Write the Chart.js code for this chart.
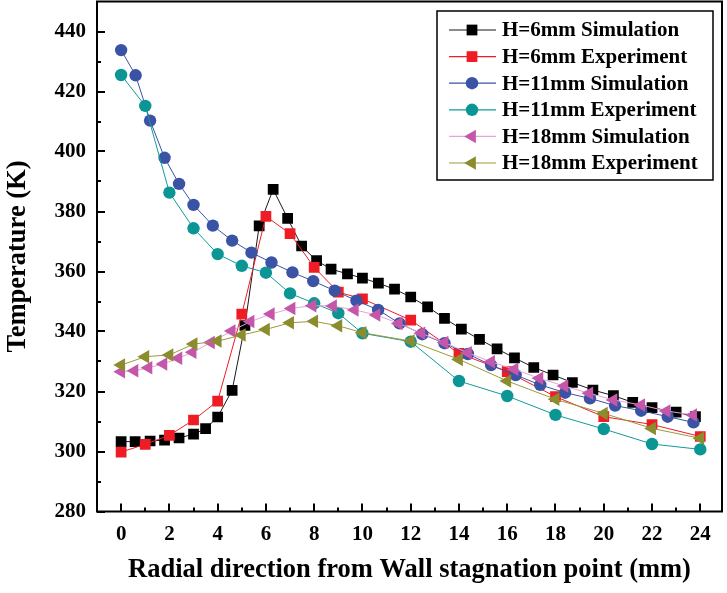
<!DOCTYPE html>
<html>
<head>
<meta charset="utf-8">
<script src="https://cdn.jsdelivr.net/npm/chart.js@4/dist/chart.umd.min.js"></script>
<style>
  html, body { margin: 0; padding: 0; background: #fff; }
  #wrap { width: 727px; height: 593px; }
</style>
</head>
<body>
<div id="wrap"><canvas id="c" width="727" height="593"></canvas></div>
<script>
// ---------------- DATA ----------------
const seriesNames = [
  'H=6mm Simulation', 'H=6mm Experiment',
  'H=11mm Simulation', 'H=11mm Experiment',
  'H=18mm Simulation', 'H=18mm Experiment'
];
const xTicks = [0, 2, 4, 6, 8, 10, 12, 14, 16, 18, 20, 22, 24];
const yTicks = [280, 300, 320, 340, 360, 380, 400, 420, 440];

// experiments share radial positions (mm)
const expX = [0, 1, 2, 3, 4, 5, 6, 7, 8, 9, 10, 12, 14, 16, 18, 20, 22, 24];

const sim6X = [0, 0.58, 1.2, 1.8, 2.4, 3.0, 3.5, 4.0, 4.6, 5.13, 5.72, 6.3, 6.9, 7.48, 8.1, 8.7, 9.38, 10.0, 10.66, 11.33, 12.0, 12.7, 13.4, 14.1, 14.85, 15.58, 16.3, 17.1, 17.9, 18.7, 19.55, 20.4, 21.2, 22.0, 23.0, 23.8];
const sim6T = [303.3, 303.3, 303.5, 303.8, 304.5, 305.8, 307.6, 311.5, 320.4, 342.0, 375.2, 387.4, 377.7, 368.5, 363.6, 360.8, 359.2, 357.8, 356.1, 354.1, 351.5, 348.2, 344.4, 340.8, 337.4, 334.2, 331.2, 328.0, 325.5, 323.0, 320.5, 318.6, 316.4, 314.6, 313.1, 311.6];

const exp6T = [299.8, 302.4, 305.4, 310.5, 316.8, 345.8, 378.4, 372.6, 361.4, 353.1, 350.9, 343.8, 332.7, 326.6, 318.3, 311.6, 309.0, 305.0];

const sim11X = [0, 0.6, 1.2, 1.8, 2.4, 3.0, 3.8, 4.6, 5.4, 6.23, 7.1, 7.96, 8.85, 9.75, 10.65, 11.54, 12.48, 13.4, 14.37, 15.33, 16.35, 17.37, 18.4, 19.43, 20.47, 21.55, 22.65, 23.72];
const sim11T = [433.8, 425.4, 410.3, 397.9, 389.2, 382.2, 375.3, 370.3, 366.3, 363.0, 359.7, 356.8, 353.6, 350.3, 347.2, 342.7, 339.1, 336.1, 332.5, 328.8, 325.5, 322.2, 319.6, 317.7, 315.3, 313.6, 311.6, 309.7];

const exp11T = [425.5, 415.2, 386.3, 374.4, 365.8, 361.9, 359.6, 352.7, 349.4, 346.1, 339.4, 336.6, 323.5, 318.5, 312.2, 307.5, 302.5, 300.7];

const sim18X = [0, 0.55, 1.13, 1.75, 2.37, 2.96, 3.72, 4.58, 5.36, 6.2, 7.06, 7.93, 8.78, 9.68, 10.58, 11.5, 12.44, 13.4, 14.37, 15.33, 16.3, 17.33, 18.37, 19.4, 20.4, 21.55, 22.6, 23.7];
const sim18T = [326.6, 326.9, 327.9, 329.2, 331.1, 333.1, 336.3, 340.2, 343.3, 345.8, 347.7, 348.6, 348.5, 347.2, 345.5, 342.7, 339.4, 336.3, 332.9, 329.9, 327.4, 324.4, 321.8, 319.4, 317.2, 315.5, 313.5, 312.2];

const exp18T = [328.8, 331.6, 332.2, 335.8, 336.8, 338.8, 340.7, 342.9, 343.4, 341.9, 339.6, 336.8, 330.7, 323.5, 317.4, 312.7, 307.7, 304.4];

// ---------------- BUILD ----------------
function pts(xs, ys) { return xs.map((x, i) => ({ x: x, y: ys[i] })); }

const styles = [
  { line: '#1a1a1a', fill: '#000000', shape: 'rect',     r: 7.6, rot: 0 },
  { line: '#ee1c25', fill: '#ee1c25', shape: 'rect',     r: 7.6, rot: 0 },
  { line: '#3a53a4', fill: '#3a53a4', shape: 'circle',   r: 6.2, rot: 0 },
  { line: '#0f9b9b', fill: '#0b9595', shape: 'circle',   r: 6.2, rot: 0 },
  { line: '#e7a3d8', fill: '#c457a9', shape: 'triangle', r: 7.8, rot: 270 },
  { line: '#9a9a3a', fill: '#8b8c2e', shape: 'triangle', r: 7.8, rot: 270 }
];
const seriesData = [
  pts(sim6X, sim6T), pts(expX, exp6T),
  pts(sim11X, sim11T), pts(expX, exp11T),
  pts(sim18X, sim18T), pts(expX, exp18T)
];

const datasets = seriesData.map((d, i) => ({
  label: seriesNames[i],
  data: d,
  showLine: true,
  borderColor: styles[i].line,
  borderWidth: 1,
  backgroundColor: styles[i].fill,
  pointBackgroundColor: styles[i].fill,
  pointBorderColor: styles[i].fill,
  pointBorderWidth: 0,
  pointStyle: styles[i].shape,
  pointRadius: styles[i].r,
  pointRotation: styles[i].rot,
  pointHoverRadius: styles[i].r,
  tension: 0,
  order: 10 - i
}));

const FONT = '"Liberation Serif", "Times New Roman", serif';

function drawMarker(ctx, st, x, y) {
  ctx.save();
  ctx.fillStyle = st.fill;
  if (st.shape === 'rect') {
    const s = Math.SQRT1_2 * st.r;
    ctx.fillRect(x - s, y - s, 2 * s, 2 * s);
  } else if (st.shape === 'circle') {
    ctx.beginPath(); ctx.arc(x, y, st.r, 0, Math.PI * 2); ctx.fill();
  } else {
    const r = st.r;
    ctx.beginPath();
    ctx.moveTo(x - r, y);
    ctx.lineTo(x + r * 0.5, y - r * 0.866);
    ctx.lineTo(x + r * 0.5, y + r * 0.866);
    ctx.closePath(); ctx.fill();
  }
  ctx.restore();
}

const framePlugin = {
  id: 'frame',
  afterDraw(chart) {
    const ctx = chart.ctx;
    const a = chart.chartArea;
    const xs = chart.scales.x, ys = chart.scales.y;
    ctx.save();
    ctx.strokeStyle = '#000';
    ctx.lineWidth = 2;
    ctx.strokeRect(a.left, a.top, a.right - a.left, a.bottom - a.top);
    // inward ticks
    ctx.lineWidth = 2;
    for (let v = 0; v <= 24; v += 1) {
      const px = Math.round(xs.getPixelForValue(v));
      const len = (v % 2 === 0) ? 8 : 4;
      ctx.beginPath(); ctx.moveTo(px, a.bottom); ctx.lineTo(px, a.bottom - len); ctx.stroke();
    }
    for (let v = 280; v <= 440; v += 10) {
      const py = Math.round(ys.getPixelForValue(v));
      const len = (v % 20 === 0) ? 8 : 4;
      ctx.beginPath(); ctx.moveTo(a.left, py); ctx.lineTo(a.left + len, py); ctx.stroke();
    }
    ctx.restore();

    // legend box inside the plot
    const bx = 437, by = 11, bw = 276, bh = 169;
    ctx.save();
    ctx.fillStyle = '#fff';
    ctx.fillRect(bx, by, bw, bh);
    ctx.strokeStyle = '#000';
    ctx.lineWidth = 1.5;
    ctx.strokeRect(bx, by, bw, bh);
    ctx.font = 'bold 21px ' + FONT;
    ctx.textBaseline = 'middle';
    ctx.textAlign = 'left';
    for (let i = 0; i < seriesNames.length; i++) {
      const y = 30 + i * 26.6;
      const st = styles[i];
      ctx.strokeStyle = st.line;
      ctx.lineWidth = 1.2;
      ctx.beginPath(); ctx.moveTo(449, y); ctx.lineTo(496, y); ctx.stroke();
      drawMarker(ctx, st, 472, y);
      ctx.fillStyle = '#000';
      ctx.fillText(seriesNames[i], 502, y + 1);
    }
    ctx.restore();
  }
};

new Chart(document.getElementById('c'), {
  type: 'scatter',
  data: { datasets: datasets },
  options: {
    responsive: false,
    animation: false,
    devicePixelRatio: 1,
    layout: { autoPadding: false, padding: { left: 0, right: 5, top: 1.5, bottom: 0 } },
    plugins: {
      legend: { display: false },
      tooltip: { enabled: false }
    },
    scales: {
      x: {
        type: 'linear',
        min: -1,
        max: 24.9,
        afterBuildTicks(scale) { scale.ticks = xTicks.map(v => ({ value: v })); },
        afterFit(scale) { scale.height = 81.5; scale.paddingLeft = 0; scale.paddingRight = 0; },
        grid: { display: false, drawTicks: false },
        border: { display: false },
        ticks: {
          color: '#000',
          padding: 10,
          autoSkip: false,
          maxRotation: 0,
          font: { family: FONT, size: 21, weight: 'bold' }
        },
        title: {
          display: true,
          text: 'Radial direction from Wall stagnation point (mm)',
          color: '#000',
          font: { family: FONT, size: 26.5, weight: 'bold', lineHeight: 1 },
          padding: { top: 0, bottom: 10 }
        }
      },
      y: {
        type: 'linear',
        min: 280,
        max: 450,
        afterBuildTicks(scale) { scale.ticks = yTicks.map(v => ({ value: v })); },
        afterFit(scale) { scale.width = 97; scale.paddingTop = 0; scale.paddingBottom = 0; },
        grid: { display: false, drawTicks: false },
        border: { display: false },
        ticks: {
          color: '#000',
          padding: 11,
          autoSkip: false,
          font: { family: FONT, size: 21, weight: 'bold' }
        },
        title: {
          display: true,
          text: 'Temperature (K)',
          color: '#000',
          font: { family: FONT, size: 26.5, weight: 'bold', lineHeight: 1 },
          padding: { top: 5, bottom: 0 }
        }
      }
    }
  },
  plugins: [framePlugin]
});
</script>
</body>
</html>
